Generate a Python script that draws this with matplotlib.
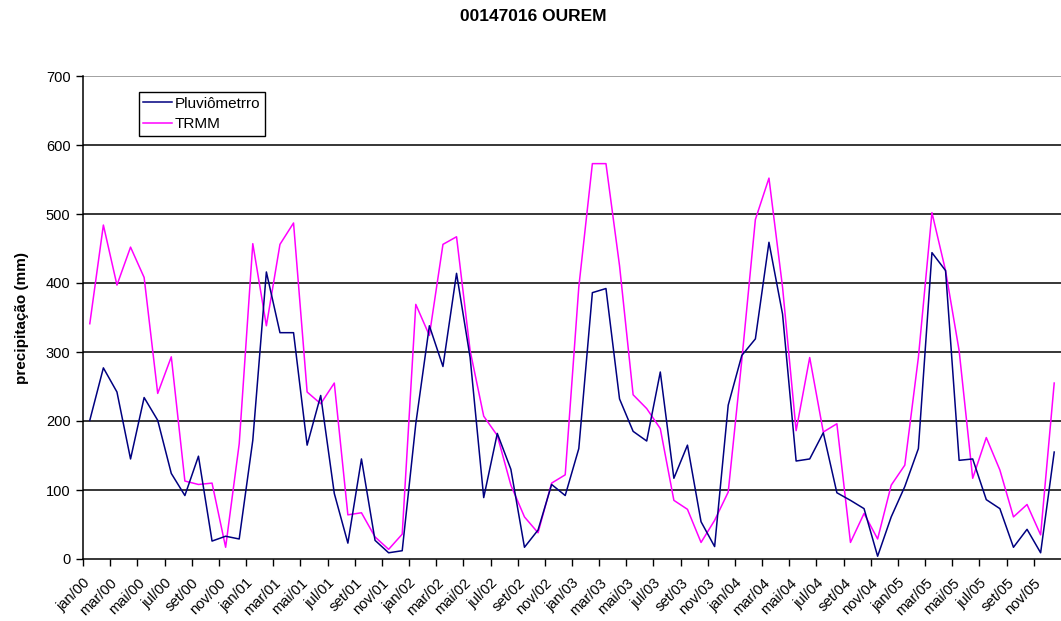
import numpy as np
import matplotlib.pyplot as plt

plt.rcParams['font.family'] = ['Liberation Sans', 'DejaVu Sans']

meses = ['jan', 'fev', 'mar', 'abr', 'mai', 'jun', 'jul', 'ago', 'set', 'out', 'nov', 'dez']
anos = ['00', '01', '02', '03', '04', '05']
labels = [f'{m}/{a}' for a in anos for m in meses]

pluviometro = [201, 277, 242, 145, 234, 201, 124, 92, 149, 26, 33, 29,
               172, 416, 328, 328, 165, 237, 95, 23, 145, 27, 9, 12,
               196, 338, 279, 414, 292, 89, 182, 130, 17, 42, 108, 92,
               160, 386, 392, 232, 185, 171, 271, 117, 165, 54, 18, 223,
               295, 319, 459, 355, 142, 145, 183, 96, 85, 73, 4, 61,
               105, 160, 444, 418, 143, 145, 86, 73, 17, 43, 9, 155]
trmm = [341, 484, 397, 452, 408, 240, 293, 113, 108, 110, 17, 167,
        457, 338, 456, 487, 242, 225, 255, 64, 67, 32, 14, 36,
        369, 324, 456, 467, 302, 207, 179, 107, 61, 38, 110, 122,
        394, 573, 573, 425, 238, 218, 189, 85, 72, 24, 56, 97,
        288, 492, 552, 394, 186, 292, 184, 196, 24, 66, 29, 107,
        136, 292, 502, 418, 302, 117, 176, 129, 61, 79, 35, 255]

x = np.arange(len(labels))

fig = plt.figure(figsize=(10.61, 6.21), dpi=100)
ax = fig.add_axes([83 / 1061, 1 - 559 / 621, (1061 - 83) / 1061, (559 - 76) / 621])

for y in range(100, 800, 100):
    ax.axhline(y, color='black' if y < 700 else '#888888', lw=1.1, zorder=1)

ax.plot(x, pluviometro, color='#000080', lw=1.1, label='Pluviômetrro', zorder=3)
ax.plot(x, trmm, color='#ff00ff', lw=1.1, label='TRMM', zorder=2)

ax.set_xlim(-0.5, len(labels) - 0.5)
ax.set_ylim(0, 700)
ax.set_yticks(range(0, 800, 100))
ax.tick_params(axis='y', direction='out', length=5, width=1, labelsize=10.5, pad=4)

# labels sit on the category boundaries, every second month
bounds = np.arange(-0.5, len(labels) - 1, 2)
ax.set_xticks(bounds)
ax.set_xticklabels(labels[::2], rotation=45, ha='right', rotation_mode='anchor', fontsize=10.5)
ax.tick_params(axis='x', which='major', direction='out', length=5, width=1, pad=7)

for s in ['top', 'right']:
    ax.spines[s].set_visible(False)
ax.spines['left'].set_linewidth(1.1)
ax.spines['bottom'].set_linewidth(1.1)

ax.set_ylabel('precipitação (mm)', fontsize=11, fontweight='bold', labelpad=12)
fig.suptitle('00147016 OUREM', fontsize=12.5, fontweight='bold', x=0.503, y=0.985)

leg = ax.legend(loc='upper left', bbox_to_anchor=(0.057, 0.967), borderaxespad=0, fontsize=11,
                frameon=True, fancybox=False, edgecolor='black', framealpha=1,
                handlelength=1.85, borderpad=0.3, labelspacing=0.45, handletextpad=0.2)
leg.get_frame().set_linewidth(1)

fig.savefig('out.png', dpi=100)
